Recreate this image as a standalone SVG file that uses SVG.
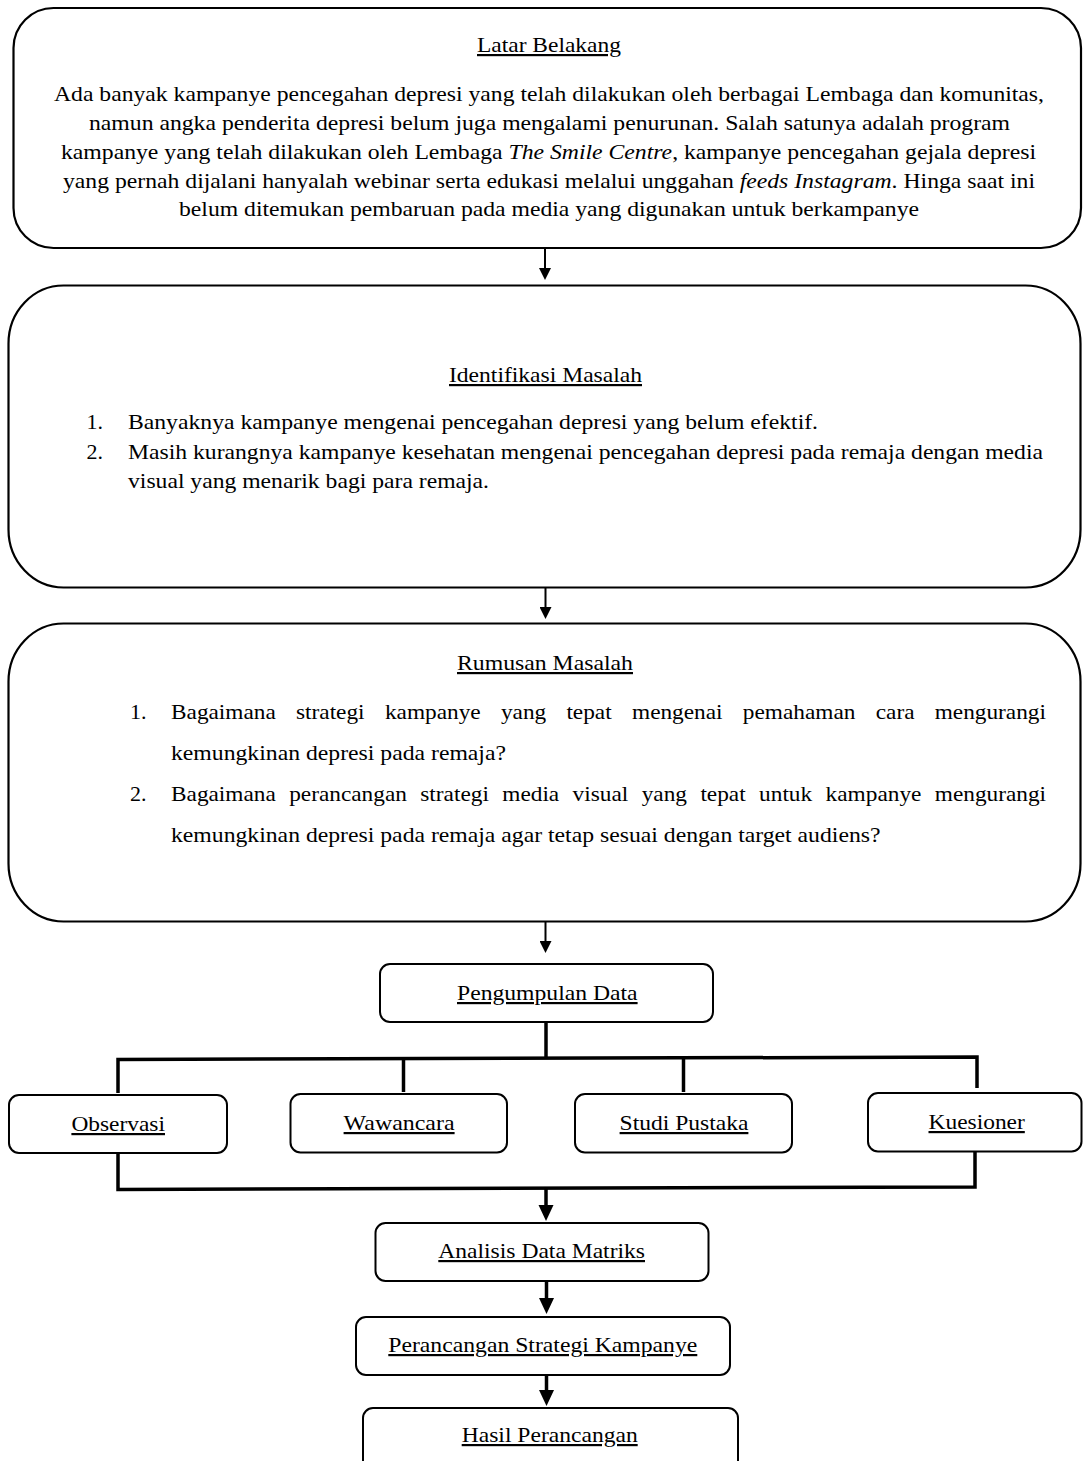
<svg xmlns="http://www.w3.org/2000/svg" width="1083" height="1461" viewBox="0 0 1083 1461">
<style>
.t{font-family:"Liberation Serif","Times New Roman",serif;font-size:22px;fill:#000}
.u{text-decoration:underline}
.box{fill:#fff;stroke:#000;stroke-width:2.2}
.sbox{fill:#fff;stroke:#000;stroke-width:2}
.thin{fill:none;stroke:#000;stroke-width:2}
.thick{fill:none;stroke:#000;stroke-width:3.5}
</style>
<defs>
<marker id="ah" markerUnits="userSpaceOnUse" markerWidth="12" markerHeight="12" refX="0" refY="6" orient="auto"><path d="M0,0 L12,6 L0,12 z" fill="#000"/></marker>
<marker id="ahb" markerUnits="userSpaceOnUse" markerWidth="16" markerHeight="16" refX="0" refY="8" orient="auto"><path d="M0,0.5 L16,8 L0,15.5 z" fill="#000"/></marker>
</defs>
<rect width="1083" height="1461" fill="#fff"/>
<g id="connectors">
<line class="thin" x1="545" y1="248" x2="545" y2="268" marker-end="url(#ah)"/>
<line class="thin" x1="545.5" y1="588" x2="545.5" y2="607" marker-end="url(#ah)"/>
<line class="thin" x1="545.5" y1="922" x2="545.5" y2="941" marker-end="url(#ah)"/>
<line class="thick" x1="546" y1="1022" x2="546" y2="1059"/>
<polyline class="thick" points="118,1093 118,1059.5 977,1057 977,1088"/>
<line class="thick" x1="403.5" y1="1059" x2="403.5" y2="1092"/>
<line class="thick" x1="683.5" y1="1058" x2="683.5" y2="1092"/>
<polyline class="thick" points="118,1153 118,1189.5 975,1187 975,1152"/>
<line class="thick" x1="546" y1="1189" x2="546" y2="1205" marker-end="url(#ahb)"/>
<line class="thick" x1="546.5" y1="1281" x2="546.5" y2="1298" marker-end="url(#ahb)"/>
<line class="thick" x1="546.5" y1="1375" x2="546.5" y2="1390" marker-end="url(#ahb)"/>
</g>
<g id="latar-belakang">
<rect class="box" x="13.5" y="8" width="1067.5" height="240" rx="40" ry="40"/>
<text class="t u" x="477" y="52" textLength="144" lengthAdjust="spacingAndGlyphs">Latar Belakang</text>
<text class="t" x="54" y="101" textLength="990" lengthAdjust="spacingAndGlyphs">Ada banyak kampanye pencegahan depresi yang telah dilakukan oleh berbagai Lembaga dan komunitas,</text>
<text class="t" x="89" y="130" textLength="921" lengthAdjust="spacingAndGlyphs">namun angka penderita depresi belum juga mengalami penurunan. Salah satunya adalah program</text>
<text class="t" x="61" y="159" textLength="975" lengthAdjust="spacingAndGlyphs">kampanye yang telah dilakukan oleh Lembaga <tspan font-style="italic">The Smile Centre</tspan>, kampanye pencegahan gejala depresi</text>
<text class="t" x="63" y="188" textLength="972" lengthAdjust="spacingAndGlyphs">yang pernah dijalani hanyalah webinar serta edukasi melalui unggahan <tspan font-style="italic">feeds Instagram</tspan>. Hinga saat ini</text>
<text class="t" x="179" y="216" textLength="740" lengthAdjust="spacingAndGlyphs">belum ditemukan pembaruan pada media yang digunakan untuk berkampanye</text>
</g>
<g id="identifikasi-masalah">
<rect class="box" x="8.5" y="285.5" width="1072" height="302" rx="55" ry="58"/>
<text class="t u" x="449" y="382" textLength="193" lengthAdjust="spacingAndGlyphs">Identifikasi Masalah</text>
<text class="t" x="86.5" y="429">1.</text>
<text class="t" x="128" y="429" textLength="690" lengthAdjust="spacingAndGlyphs">Banyaknya kampanye mengenai pencegahan depresi yang belum efektif.</text>
<text class="t" x="86.5" y="459">2.</text>
<text class="t" x="128" y="459" textLength="915" lengthAdjust="spacingAndGlyphs">Masih kurangnya kampanye kesehatan mengenai pencegahan depresi pada remaja dengan media</text>
<text class="t" x="128" y="488" textLength="361" lengthAdjust="spacingAndGlyphs">visual yang menarik bagi para remaja.</text>
</g>
<g id="rumusan-masalah">
<rect class="box" x="8.5" y="623.5" width="1072" height="298" rx="55" ry="58"/>
<text class="t u" x="457" y="670" textLength="176" lengthAdjust="spacingAndGlyphs">Rumusan Masalah</text>
<text class="t" x="130" y="719">1.</text>
<text class="t" y="719"><tspan x="171" textLength="104.8" lengthAdjust="spacingAndGlyphs">Bagaimana</tspan> <tspan x="296" textLength="68.6" lengthAdjust="spacingAndGlyphs">strategi</tspan> <tspan x="384.9" textLength="95.8" lengthAdjust="spacingAndGlyphs">kampanye</tspan> <tspan x="500.9" textLength="45.3" lengthAdjust="spacingAndGlyphs">yang</tspan> <tspan x="566.4" textLength="45.3" lengthAdjust="spacingAndGlyphs">tepat</tspan> <tspan x="632" textLength="90.6" lengthAdjust="spacingAndGlyphs">mengenai</tspan> <tspan x="742.8" textLength="112.6" lengthAdjust="spacingAndGlyphs">pemahaman</tspan> <tspan x="875.7" textLength="38.8" lengthAdjust="spacingAndGlyphs">cara</tspan> <tspan x="934.7" textLength="111.3" lengthAdjust="spacingAndGlyphs">mengurangi</tspan></text>
<text class="t" x="171" y="760" textLength="335" lengthAdjust="spacingAndGlyphs">kemungkinan depresi pada remaja?</text>
<text class="t" x="130" y="801">2.</text>
<text class="t" y="801"><tspan x="171" textLength="104.8" lengthAdjust="spacingAndGlyphs">Bagaimana</tspan> <tspan x="289.2" textLength="117.7" lengthAdjust="spacingAndGlyphs">perancangan</tspan> <tspan x="420.3" textLength="68.6" lengthAdjust="spacingAndGlyphs">strategi</tspan> <tspan x="502.3" textLength="56.9" lengthAdjust="spacingAndGlyphs">media</tspan> <tspan x="572.6" textLength="55.7" lengthAdjust="spacingAndGlyphs">visual</tspan> <tspan x="641.7" textLength="45.3" lengthAdjust="spacingAndGlyphs">yang</tspan> <tspan x="700.4" textLength="45.3" lengthAdjust="spacingAndGlyphs">tepat</tspan> <tspan x="759.1" textLength="53.1" lengthAdjust="spacingAndGlyphs">untuk</tspan> <tspan x="825.6" textLength="95.8" lengthAdjust="spacingAndGlyphs">kampanye</tspan> <tspan x="934.8" textLength="111.3" lengthAdjust="spacingAndGlyphs">mengurangi</tspan></text>
<text class="t" x="171" y="842" textLength="709.5" lengthAdjust="spacingAndGlyphs">kemungkinan depresi pada remaja agar tetap sesuai dengan target audiens?</text>
</g>
<g id="pengumpulan-data">
<rect class="sbox" x="380" y="964" width="333" height="58" rx="10"/>
<text class="t u" x="457" y="1000" textLength="180.6" lengthAdjust="spacingAndGlyphs">Pengumpulan Data</text>
</g>
<g id="observasi">
<rect class="sbox" x="9" y="1095" width="218" height="58" rx="10"/>
<text class="t u" x="71.4" y="1131" textLength="93.6" lengthAdjust="spacingAndGlyphs">Observasi</text>
</g>
<g id="wawancara">
<rect class="sbox" x="290.5" y="1094" width="216.5" height="58.5" rx="10"/>
<text class="t u" x="343.6" y="1130" textLength="111" lengthAdjust="spacingAndGlyphs">Wawancara</text>
</g>
<g id="studi-pustaka">
<rect class="sbox" x="575" y="1094" width="217" height="58.5" rx="10"/>
<text class="t u" x="619.6" y="1130" textLength="128.8" lengthAdjust="spacingAndGlyphs">Studi Pustaka</text>
</g>
<g id="kuesioner">
<rect class="sbox" x="868" y="1093" width="213.5" height="58.5" rx="10"/>
<text class="t u" x="928.5" y="1129" textLength="96.3" lengthAdjust="spacingAndGlyphs">Kuesioner</text>
</g>
<g id="analisis-data-matriks">
<rect class="sbox" x="375.5" y="1223" width="333" height="58" rx="10"/>
<text class="t u" x="438.3" y="1258" textLength="206.7" lengthAdjust="spacingAndGlyphs">Analisis Data Matriks</text>
</g>
<g id="perancangan-strategi">
<rect class="sbox" x="356" y="1317" width="374" height="58" rx="10"/>
<text class="t u" x="388.3" y="1352" textLength="309" lengthAdjust="spacingAndGlyphs">Perancangan Strategi Kampanye</text>
</g>
<g id="hasil-perancangan">
<rect class="sbox" x="363" y="1408" width="375" height="70" rx="10"/>
<text class="t u" x="461.7" y="1442" textLength="176" lengthAdjust="spacingAndGlyphs">Hasil Perancangan</text>
</g>
</svg>
